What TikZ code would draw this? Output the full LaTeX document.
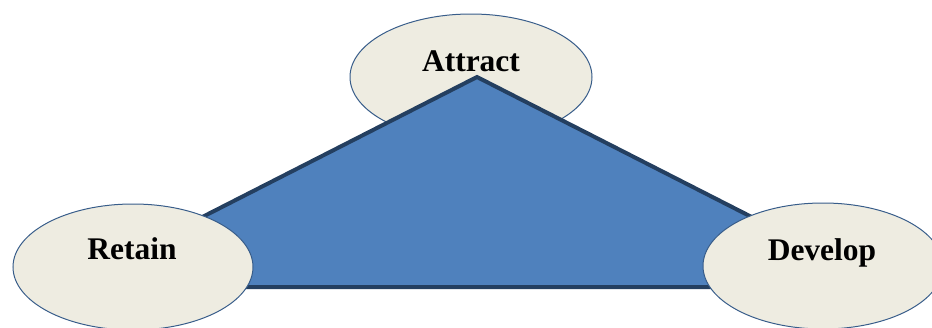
\documentclass[tikz,border=0pt]{standalone}
\usepackage{fontspec}
\setmainfont{Liberation Serif}
\usetikzlibrary{shapes.geometric}
\definecolor{ellfill}{HTML}{EEECE1}
\definecolor{ellline}{HTML}{385D8A}
\definecolor{trifill}{HTML}{4F81BD}
\definecolor{triline}{HTML}{243F60}
\tikzset{
  bubble/.style={ellipse, draw=ellline, line width=1pt, fill=ellfill, inner sep=0pt},
  word/.style={font=\fontsize{31.5}{34}\selectfont\bfseries, anchor=base, inner sep=0pt}
}
\begin{document}
\begin{tikzpicture}[x=1pt,y=-1pt]
\useasboundingbox (0,0) rectangle (932,327);
\clip (0,0) rectangle (932,327);
\node[bubble, minimum width=242pt, minimum height=126pt] (eA) at (471,77) {};
\node[word] (tA) at (471,71) {Attract};
\coordinate (apex) at (477,77);
\coordinate (bl) at (65,287);
\coordinate (br) at (889,287);
\draw[fill=trifill, draw=triline, line width=4pt, line join=miter] (apex) -- (br) -- (bl) -- cycle;
\node[bubble, minimum width=240pt, minimum height=126pt] (eR) at (133,267) {};
\node[word] (tR) at (132,259) {Retain};
\node[bubble, minimum width=240pt, minimum height=126pt] (eD) at (823,266) {};
\node[word] (tD) at (822,260) {Develop};
\end{tikzpicture}
\end{document}
